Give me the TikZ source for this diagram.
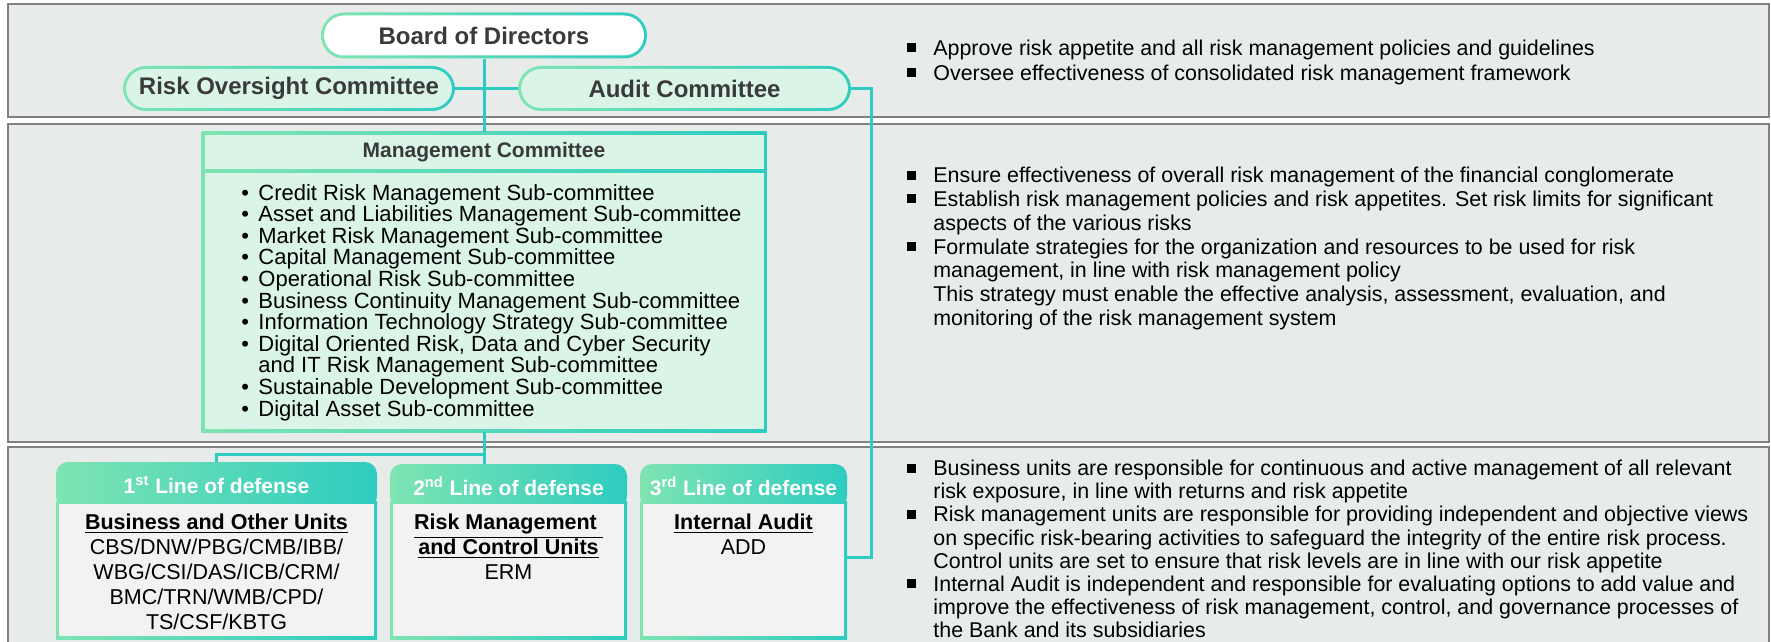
\documentclass[tikz,border=0pt]{standalone}
\usepackage{fontspec}
\setmainfont{Liberation Sans}
\usepackage{xcolor}
\usetikzlibrary{positioning, calc}

\definecolor{panelbg}{HTML}{E7ECEA}
\definecolor{panelline}{HTML}{808080}
\definecolor{leafgreen}{HTML}{7EE4B2}
\definecolor{tealc}{HTML}{2ECCC0}
\definecolor{mintfill}{HTML}{DAF5E8}
\definecolor{unitfill}{HTML}{F2F2F2}
\definecolor{titlegrey}{HTML}{3A3A3A}

\tikzset{
  panel/.style={draw=panelline, line width=1.2pt, fill=panelbg},
  link/.style={draw=tealc, line width=1.5pt},
  gradrim/.style={left color=leafgreen, right color=tealc, inner sep=0pt,
    path picture={\fill[#1] ([shift={(1.5pt,1.5pt)}]path picture bounding box.south west)
      rectangle ([shift={(-1.5pt,-1.5pt)}]path picture bounding box.north east);}},
  pill/.style={gradrim={#1, rounded corners=10pt}, rounded corners=11.5pt,
    minimum height=22.5pt, text=titlegrey, font=\fontsize{12}{14}\selectfont\bfseries},
  lodhead/.style={rounded corners=6pt, left color=leafgreen, right color=tealc,
    text=white, inner sep=0pt, font=\fontsize{10.5}{12}\selectfont\bfseries},
  lodbody/.style={gradrim=unitfill, minimum height=69pt},
  unittext/.style={align=center, inner sep=0pt, font=\fontsize{10.75}{12.5}\selectfont},
  listtext/.style={anchor=west, inner sep=0pt, text height=8pt, text depth=0pt,
    font=\fontsize{11}{11}\selectfont},
  notetext/.style={anchor=west, inner sep=0pt, text height=7.7pt, text depth=0pt,
    font=\fontsize{10.7}{12}\selectfont},
  sqbullet/.style={fill=black, minimum size=4.5pt, inner sep=0pt}
}

\begin{document}
\begin{tikzpicture}[x=0.5pt, y=-0.5pt]
  \useasboundingbox (0,0) rectangle (1771,642);

  % three bands
  \draw[panel] (8,4) rectangle (1769,117);
  \draw[panel] (8,124) rectangle (1769,442);
  \draw[panel] (8,447) rectangle (1769,680);

  % governance boxes
  \node[pill=white, minimum width=163pt, minimum height=23pt] (board) at (484,35.5) {Board of Directors};
  \node[pill=mintfill, minimum width=166pt] (roc) at (289,88.5) {Risk Oversight Committee};
  \node[pill=mintfill, minimum width=166.5pt] (audit) at (684.5,88.5) {Audit Committee};

  \node[gradrim=mintfill, minimum width=282.5pt, minimum height=150pt] (mgmt) at (484,282) {};
  \shade[left color=leafgreen, right color=tealc] ($(mgmt.north west)+(0,37.5)$) rectangle ($(mgmt.north east)+(0,40.5)$);
  \node[text=titlegrey, font=\fontsize{10.5}{12}\selectfont\bfseries] (mgmttitle) at (484,152) {Management Committee};

  \foreach \dt/\tx [count=\k from 0] in {1/{Credit Risk Management Sub-committee},
      1/{Asset and Liabilities Management Sub-committee},
      1/{Market Risk Management Sub-committee},
      1/{Capital Management Sub-committee},
      1/{Operational Risk Sub-committee},
      1/{Business Continuity Management Sub-committee},
      1/{Information Technology Strategy Sub-committee},
      1/{Digital Oriented Risk, Data and Cyber Security},
      0/{and IT Risk Management Sub-committee},
      1/{Sustainable Development Sub-committee},
      1/{Digital Asset Sub-committee}} {
    \node[listtext] (sub\k) at (258,192+\k*21.6) {\tx};
    \ifnum\dt=1 \node[listtext] (subdot\k) at (241,192+\k*21.6) {\textbullet}; \fi
  }

  % lines of defense
  \node[lodhead, minimum width=160.5pt, minimum height=23pt] (lod1h) at (216.5,485) {1\textsuperscript{st} Line of defense};
  \node[lodhead, minimum width=118.5pt, minimum height=22pt] (lod2h) at (508.5,486) {2\textsuperscript{nd} Line of defense};
  \node[lodhead, minimum width=103.5pt, minimum height=22pt] (lod3h) at (743.5,486) {3\textsuperscript{rd} Line of defense};

  \node[lodbody, minimum width=160.5pt] (lod1b) at (216.5,570) {};
  \node[lodbody, minimum width=118.5pt] (lod2b) at (508.5,570) {};
  \node[lodbody, minimum width=103.5pt] (lod3b) at (743.5,570) {};

  \node[unittext, below=6.5pt of lod1b.north] (lod1t) {\textbf{\underline{Business and Other Units}}\\
    CBS/DNW/PBG/CMB/IBB/\\WBG/CSI/DAS/ICB/CRM/\\BMC/TRN/WMB/CPD/\\TS/CSF/KBTG};
  \node[unittext, below=6.5pt of lod2b.north] (lod2t) {\textbf{\underline{Risk Management }}\\
    \textbf{\underline{and Control Units}}\\ERM};
  \node[unittext, below=6.5pt of lod3b.north] (lod3t) {\textbf{\underline{Internal Audit}}\\ADD};

  % connectors
  \draw[link] (board.south) -- (mgmt.north);
  \draw[link] (roc.east) -- (audit.west);
  \draw[link] (mgmt.south) -- (mgmt.south |- lod2h.north);
  \coordinate (fork) at (484,454);
  \draw[link] (fork) -| (lod1h.north);
  \coordinate (auditdrop) at (871,557);
  \draw[link] (audit.east) -| (auditdrop) -- (auditdrop -| lod3b.east);

  % responsibilities
  \foreach \dt/\tx [count=\k from 0] in {1/{Approve risk appetite and all risk management policies and guidelines},
      1/{Oversee effectiveness of consolidated risk management framework}} {
    \node[notetext] (gov\k) at (933,48+\k*25) {\tx};
    \ifnum\dt=1 \node[sqbullet] (govdot\k) at (911.5,48+\k*25) {}; \fi
  }
  \foreach \dt/\tx [count=\k from 0] in {1/{Ensure effectiveness of overall risk management of the financial conglomerate},
      1/{Establish risk management policies and risk appetites. Set risk limits for significant},
      0/{aspects of the various risks},
      1/{Formulate strategies for the organization and resources to be used for risk},
      0/{management, in line with risk management policy},
      0/{This strategy must enable the effective analysis, assessment, evaluation, and},
      0/{monitoring of the risk management system}} {
    \node[notetext] (mgt\k) at (933,175+\k*23.8) {\tx};
    \ifnum\dt=1 \node[sqbullet] (mgtdot\k) at (911.5,175+\k*23.8) {}; \fi
  }
  \foreach \dt/\tx [count=\k from 0] in {1/{Business units are responsible for continuous and active management of all relevant},
      0/{risk exposure, in line with returns and risk appetite},
      1/{Risk management units are responsible for providing independent and objective views},
      0/{on specific risk-bearing activities to safeguard the integrity of the entire risk process.},
      0/{Control units are set to ensure that risk levels are in line with our risk appetite},
      1/{Internal Audit is independent and responsible for evaluating options to add value and},
      0/{improve the effectiveness of risk management, control, and governance processes of},
      0/{the Bank and its subsidiaries}} {
    \node[notetext] (lod\k) at (933,468+\k*23.1) {\tx};
    \ifnum\dt=1 \node[sqbullet] (loddot\k) at (911.5,468+\k*23.1) {}; \fi
  }
\end{tikzpicture}
\end{document}
